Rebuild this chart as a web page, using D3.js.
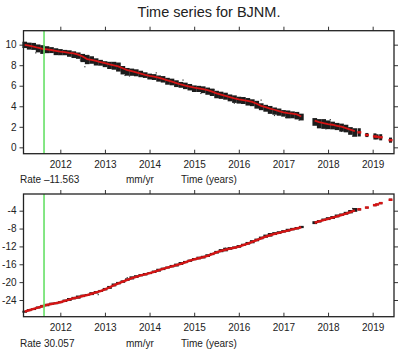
<!DOCTYPE html>
<html>
<head>
<meta charset="utf-8">
<script src="https://cdn.jsdelivr.net/npm/d3@7"></script>
<style>
body { margin: 0; background: #fff; }
text { font-family: "Liberation Sans", Arial, sans-serif; fill: #222; }
</style>
</head>
<body>
<div id="chart"></div>
<script>
// sample times (years), one every 0.1 yr, continuous parts of the record
var times = [2011.2, 2011.3, 2011.4, 2011.5, 2011.6, 2011.7, 2011.8, 2011.9,
    2012.0, 2012.1, 2012.2, 2012.3, 2012.4, 2012.5, 2012.6, 2012.7, 2012.8, 2012.9,
    2013.0, 2013.1, 2013.2, 2013.3, 2013.4, 2013.5, 2013.6, 2013.7, 2013.8, 2013.9,
    2014.0, 2014.1, 2014.2, 2014.3, 2014.4, 2014.5, 2014.6, 2014.7, 2014.8, 2014.9,
    2015.0, 2015.1, 2015.2, 2015.3, 2015.4, 2015.5, 2015.6, 2015.7, 2015.8, 2015.9,
    2016.0, 2016.1, 2016.2, 2016.3, 2016.4, 2016.5, 2016.6, 2016.7, 2016.8, 2016.9,
    2017.0, 2017.1, 2017.2, 2017.3, 2017.4, null,
    2017.7, 2017.8, 2017.9, 2018.0, 2018.1, 2018.2, 2018.3, 2018.4, 2018.5, 2018.6];
// model curve (red) for the first component
var topModel = [9.97, 9.90, 9.82, 9.70, 9.60, 9.55, 9.48, 9.40,
    9.32, 9.27, 9.20, 9.15, 9.02, 8.85, 8.60, 8.52, 8.42, 8.30,
    8.19, 8.08, 7.98, 7.88, 7.70, 7.53, 7.42, 7.30, 7.18, 7.06,
    6.96, 6.88, 6.78, 6.66, 6.52, 6.39, 6.25, 6.12, 6.02, 5.92,
    5.81, 5.74, 5.66, 5.57, 5.42, 5.26, 5.14, 5.02, 4.90, 4.78,
    4.68, 4.60, 4.52, 4.43, 4.25, 4.04, 3.92, 3.78, 3.66, 3.53,
    3.41, 3.34, 3.28, 3.20, 3.00, null,
    2.60, 2.45, 2.35, 2.27, 2.20, 2.10, 2.01, 1.88, 1.72, 1.58];
// low / high edge of the black data scatter, as offsets from the model
var topBelow = [0.30, 0.38, 0.33, 0.45, 0.50, 0.38, 0.30, 0.42,
    0.35, 0.30, 0.38, 0.45, 0.40, 0.55, 0.50, 0.38, 0.45, 0.35,
    0.38, 0.45, 0.42, 0.50, 0.60, 0.55, 0.45, 0.38, 0.35, 0.30,
    0.35, 0.32, 0.38, 0.35, 0.42, 0.35, 0.38, 0.32, 0.35, 0.38,
    0.42, 0.35, 0.38, 0.45, 0.42, 0.48, 0.42, 0.38, 0.42, 0.45,
    0.42, 0.38, 0.45, 0.42, 0.48, 0.42, 0.45, 0.52, 0.48, 0.45,
    0.42, 0.52, 0.45, 0.48, 0.38, null,
    0.50, 0.60, 0.55, 0.50, 0.45, 0.42, 0.48, 0.42, 0.50, 0.55];
var topAbove = [0.32, 0.30, 0.35, 0.32, 0.35, 0.30, 0.28, 0.25,
    0.25, 0.22, 0.25, 0.20, 0.22, 0.25, 0.40, 0.35, 0.25, 0.22,
    0.20, 0.25, 0.35, 0.38, 0.22, 0.20, 0.25, 0.30, 0.28, 0.25,
    0.22, 0.25, 0.22, 0.28, 0.25, 0.30, 0.28, 0.25, 0.28, 0.25,
    0.22, 0.25, 0.28, 0.25, 0.30, 0.25, 0.28, 0.30, 0.25, 0.28,
    0.25, 0.30, 0.28, 0.25, 0.28, 0.25, 0.22, 0.25, 0.22, 0.25,
    0.22, 0.25, 0.22, 0.25, 0.28, null,
    0.25, 0.30, 0.40, 0.35, 0.30, 0.28, 0.30, 0.32, 0.25, 0.28];
// model curve for the second component
var botModel = [-26.6, -26.3, -26.0, -25.7, -25.4, -25.1, -24.9, -24.7,
    -24.5, -24.2, -23.9, -23.6, -23.4, -23.1, -22.9, -22.6, -22.3, -22.0,
    -21.6, -21.2, -20.7, -20.3, -19.9, -19.5, -19.1, -18.8, -18.5, -18.25,
    -18.0, -17.7, -17.35, -17.05, -16.75, -16.45, -16.2, -15.9, -15.55, -15.2,
    -14.9, -14.65, -14.4, -14.1, -13.75, -13.35, -13.0, -12.75, -12.5, -12.3,
    -12.05, -11.7, -11.35, -11.0, -10.6, -10.2, -9.8, -9.5, -9.2, -8.95,
    -8.7, -8.45, -8.2, -7.95, -7.7, null,
    -6.7, -6.4, -6.1, -5.85, -5.55, -5.25, -4.97, -4.65, -4.3, -3.95];
var botBelow = [0.25, 0.20, 0.25, 0.20, 0.25, 0.30, 0.20, 0.25,
    0.20, 0.25, 0.30, 0.25, 0.30, 0.25, 0.20, 0.30, 0.25, 0.20,
    0.25, 0.30, 0.25, 0.20, 0.25, 0.20, 0.30, 0.25, 0.20, 0.25,
    0.20, 0.25, 0.30, 0.25, 0.20, 0.25, 0.30, 0.25, 0.20, 0.25,
    0.20, 0.25, 0.30, 0.25, 0.20, 0.25, 0.30, 0.35, 0.25, 0.20,
    0.25, 0.20, 0.25, 0.30, 0.25, 0.20, 0.25, 0.30, 0.25, 0.25,
    0.20, 0.25, 0.20, 0.25, 0.20, null,
    0.30, 0.25, 0.20, 0.25, 0.30, 0.25, 0.20, 0.25, 0.30, 0.30];
var botAbove = [0.20, 0.25, 0.20, 0.25, 0.30, 0.25, 0.30, 0.20,
    0.25, 0.30, 0.35, 0.30, 0.40, 0.30, 0.25, 0.35, 0.30, 0.25,
    0.30, 0.35, 0.40, 0.35, 0.30, 0.35, 0.40, 0.35, 0.30, 0.30,
    0.25, 0.30, 0.35, 0.30, 0.25, 0.30, 0.35, 0.40, 0.30, 0.25,
    0.30, 0.35, 0.30, 0.35, 0.30, 0.35, 0.40, 0.45, 0.35, 0.30,
    0.35, 0.30, 0.35, 0.40, 0.35, 0.40, 0.45, 0.50, 0.40, 0.35,
    0.35, 0.40, 0.35, 0.30, 0.30, null,
    0.35, 0.30, 0.35, 0.40, 0.35, 0.40, 0.35, 0.40, 0.45, 0.55];
// isolated black points away from the band
var topOutT = [2011.45, 2012.45, 2012.55, 2012.62, 2013.45, 2013.55, 2014.15, 2014.75,
    2015.15, 2015.45, 2015.9, 2016.5, 2016.8, 2017.05, 2017.35, 2017.95, 2018.05, 2018.3, 2018.55];
var topOutV = [9.20, 8.50, 7.85, 8.95, 7.00, 6.95, 7.25, 6.55,
    5.25, 5.60, 4.30, 4.60, 3.10, 2.90, 2.65, 1.80, 2.70, 1.55, 1.10];
var botOutT = [2012.85, 2013.5, 2015.7, 2016.75, 2018.55];
var botOutV = [-22.8, -19.0, -12.4, -9.1, -3.5];
// sparse campaign points after mid 2018
var sparseTimes = [2018.70, 2018.87, 2019.05, 2019.10, 2019.18, 2019.40];
var sparseTop = [1.46, 1.20, 1.06, 1.02, 0.98, 0.70];
var sparseTopSpread = [0.40, 0.20, 0.30, 0.25, 0.30, 0.25];
var sparseBot = [-3.7, -3.3, -2.75, -2.6, -2.3, -1.55];
var sparseBotSpread = [0.25, 0.2, 0.25, 0.2, 0.25, 0.25];

var xTicks = [2012, 2013, 2014, 2015, 2016, 2017, 2018, 2019];
var topTicks = [0, 2, 4, 6, 8, 10];
var botTicks = [-24, -20, -16, -12, -8, -4];
var eventTime = 2011.635;

var width = 402, height = 354;
var left = 23.5, right = 394;

var svg = d3.select("#chart").append("svg")
    .attr("width", width)
    .attr("height", height);

svg.append("text")
    .attr("x", 209)
    .attr("y", 17)
    .attr("font-size", "14.5px")
    .attr("text-anchor", "middle")
    .text("Time series for BJNM.");

var x = d3.scaleLinear()
    .domain([2011.175, 2019.478])
    .range([left, right]);

function panel(p) {
    var top = p.top, bottom = p.bottom;
    var y = d3.scaleLinear().domain(p.domain).range([bottom, top]);
    var g = svg.append("g");

    var rows = times.map(function (t, i) {
        return {t: t, m: p.model[i], lo: p.below[i], hi: p.above[i]};
    }).filter(function (d) { return d.t !== null; });

    // black scatter, one strip per sample
    var step = x(2011.3) - x(2011.2);
    g.selectAll(".band").data(rows).enter().append("rect")
        .attr("x", function (d) { return x(d.t) - step / 2; })
        .attr("y", function (d) { return y(d.m + d.hi); })
        .attr("width", step + 0.2)
        .attr("height", function (d) { return y(d.m - d.lo) - y(d.m + d.hi); })
        .attr("fill", "#1c1c1c");

    g.selectAll(".out").data(p.outT).enter().append("rect")
        .attr("x", function (d) { return x(d) - 0.6; })
        .attr("y", function (d, i) { return y(p.outV[i]) - 0.6; })
        .attr("width", 1.2)
        .attr("height", 1.2)
        .attr("fill", "#333");

    var sparse = sparseTimes.map(function (t, i) {
        return {t: t, m: p.sModel[i], s: p.sSpread[i]};
    });
    g.selectAll(".sp").data(sparse).enter().append("rect")
        .attr("x", function (d) { return x(d.t) - 1.5; })
        .attr("y", function (d) { return y(d.m + d.s); })
        .attr("width", 3)
        .attr("height", function (d) { return y(d.m - d.s) - y(d.m + d.s); })
        .attr("fill", "#1c1c1c");

    // red model
    var line = d3.line()
        .defined(function (d) { return d.t !== null; })
        .x(function (d) { return x(d.t); })
        .y(function (d) { return y(d.m); });
    var lineRows = times.map(function (t, i) { return {t: t, m: p.model[i]}; });
    g.append("path")
        .datum(lineRows)
        .attr("d", line)
        .attr("fill", "none")
        .attr("stroke", "#d41414")
        .attr("stroke-width", p.lineW);
    g.selectAll(".sm").data(sparse).enter().append("rect")
        .attr("x", function (d) { return x(d.t) - 2; })
        .attr("y", function (d) { return y(d.m) - 1.2; })
        .attr("width", 4)
        .attr("height", 2.4)
        .attr("fill", "#d41414");

    // event line
    g.append("line")
        .attr("x1", x(eventTime)).attr("x2", x(eventTime))
        .attr("y1", top).attr("y2", bottom)
        .attr("stroke", "#66e066")
        .attr("stroke-width", 1.6);

    // axes
    var axB = d3.axisBottom(x).tickValues(xTicks).tickFormat(d3.format("d"))
        .tickSizeInner(-4).tickSizeOuter(0).tickPadding(7);
    var axT = d3.axisTop(x).tickValues(xTicks).tickFormat("").tickSize(4);
    var axL = d3.axisLeft(y).tickValues(p.ticks).tickSize(4).tickPadding(3);
    var axR = d3.axisRight(y).tickValues(p.ticks).tickFormat("").tickSize(4);

    var gb = g.append("g").attr("transform", "translate(0," + bottom + ")").call(axB);
    var gt = g.append("g").attr("transform", "translate(0," + top + ")").call(axT);
    var gl = g.append("g").attr("transform", "translate(" + left + ",0)").call(axL);
    var gr = g.append("g").attr("transform", "translate(" + right + ",0)").call(axR);
    [gb, gt, gl, gr].forEach(function (a) {
        a.select(".domain").remove();
        a.selectAll("line").attr("stroke", "#333");
        a.selectAll("text").attr("font-size", "10px")
            .attr("font-family", "Liberation Sans, Arial, sans-serif").attr("fill", "#222");
    });
    gl.selectAll("text").text(function (d) { return d < 0 ? "-" + Math.abs(d) : d; });

    g.append("rect")
        .attr("x", left).attr("y", top)
        .attr("width", right - left).attr("height", bottom - top)
        .attr("fill", "none")
        .attr("stroke", "#222")
        .attr("stroke-width", 1.3);

    g.append("text").attr("x", 20).attr("y", p.labelY)
        .attr("font-size", "10px").text(p.rate);
    g.append("text").attr("x", 126).attr("y", p.labelY)
        .attr("font-size", "10px").text("mm/yr");
    g.append("text").attr("x", 181).attr("y", p.labelY)
        .attr("font-size", "10px").text("Time (years)");
}

panel({top: 30.7, bottom: 153.7, domain: [-0.62, 11.36], ticks: topTicks,
    model: topModel, below: topBelow, above: topAbove, outT: topOutT, outV: topOutV,
    sModel: sparseTop, sSpread: sparseTopSpread, lineW: 1.8,
    rate: "Rate \u201311.563", labelY: 183});
panel({top: 194, bottom: 316.7, domain: [-27.74, -0.26], ticks: botTicks,
    model: botModel, below: botBelow, above: botAbove, outT: botOutT, outV: botOutV,
    sModel: sparseBot, sSpread: sparseBotSpread, lineW: 2.4,
    rate: "Rate 30.057", labelY: 346.5});
</script>
</body>
</html>
